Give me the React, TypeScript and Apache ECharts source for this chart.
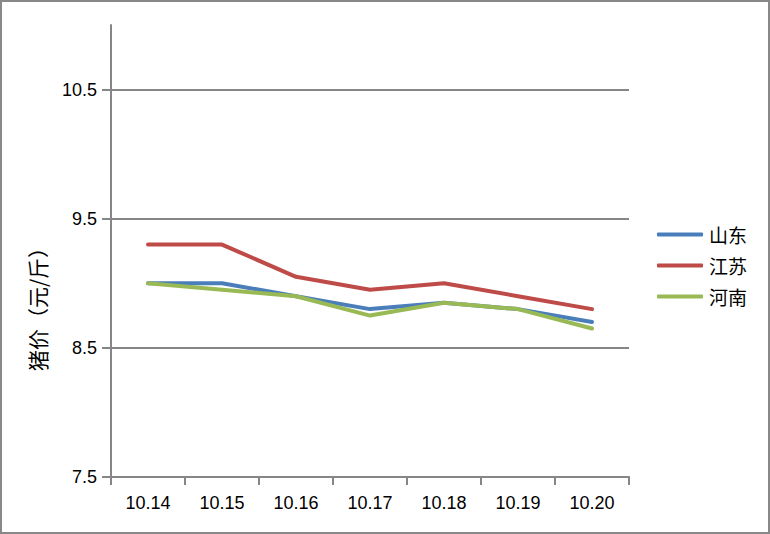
import React, { useEffect, useRef } from "react";
import * as echarts from "echarts";

const categories = ["10.14", "10.15", "10.16", "10.17", "10.18", "10.19", "10.20"];
const seriesNames = ["山东", "江苏", "河南"];
const shandong = [9.0, 9.0, 8.9, 8.8, 8.85, 8.8, 8.7];
const jiangsu = [9.3, 9.3, 9.05, 8.95, 9.0, 8.9, 8.8];
const henan = [9.0, 8.95, 8.9, 8.75, 8.85, 8.8, 8.65];
const yTicks = [7.5, 8.5, 9.5, 10.5];
const yTitle = "猪价（元/斤）";

const colors = ["#4A7EBB", "#BE4B48", "#98B954"];
const axisColor = "#868686";
const latin = "'Liberation Sans', 'Noto Sans CJK SC', sans-serif";
const cjk = "'Noto Sans CJK SC', sans-serif";

export default function App() {
  const ref = useRef<HTMLDivElement>(null);
  useEffect(() => {
    document.body.style.margin = "0";
    if (!ref.current) return;
    const chart = echarts.init(ref.current, undefined, { renderer: "svg" });
    const values = [shandong, jiangsu, henan];
    chart.setOption({
      animation: false,
      backgroundColor: "#ffffff",
      grid: { left: 111, right: 141, top: 25, bottom: 57, containLabel: false },
      legend: {
        orient: "vertical",
        left: 652,
        top: 220,
        icon: "roundRect",
        itemWidth: 46,
        itemHeight: 4,
        itemGap: 12,
        data: seriesNames,
        textStyle: { fontFamily: cjk, fontSize: 19, color: "#000", padding: [0, 0, 0, 1] },
      },
      xAxis: {
        type: "category",
        data: categories,
        boundaryGap: true,
        axisLine: { lineStyle: { color: axisColor, width: 2 } },
        axisTick: { show: true, length: 8, alignWithLabel: false, lineStyle: { color: axisColor, width: 2 } },
        axisLabel: { fontFamily: latin, fontSize: 18, color: "#000", margin: 17 },
        splitLine: { show: false },
      },
      yAxis: {
        type: "value",
        min: 7.5,
        max: 11,
        interval: 1,
        axisLine: { show: true, lineStyle: { color: axisColor, width: 2 } },
        axisTick: { show: true, length: 9, customValues: yTicks, lineStyle: { color: axisColor, width: 2 } },
        axisLabel: {
          fontFamily: latin,
          fontSize: 18,
          color: "#000",
          margin: 14,
          customValues: yTicks,
          formatter: (v: number) => v.toFixed(1),
        },
        splitLine: {
          show: true,
          lineStyle: { color: ["rgba(0,0,0,0)", axisColor, axisColor, axisColor, "rgba(0,0,0,0)"], width: 2 },
        },
      },
      graphic: [
        {
          type: "text",
          x: 37,
          y: 304,
          rotation: Math.PI / 2,
          style: {
            text: yTitle,
            fontFamily: cjk,
            fontSize: 21,
            fill: "#000",
            align: "center",
            verticalAlign: "middle",
          },
        },
      ],
      series: seriesNames.map((name, i) => ({
        name,
        type: "line",
        data: values[i],
        symbol: "none",
        lineStyle: { color: colors[i], width: 4, cap: "round", join: "round" },
        itemStyle: { color: colors[i] },
        z: 2 + i,
      })),
    });
    return () => chart.dispose();
  }, []);
  return (
    <div
      style={{
        width: 770,
        height: 534,
        boxSizing: "border-box",
        border: "2px solid #888",
        position: "relative",
        overflow: "hidden",
      }}
    >
      <div ref={ref} style={{ position: "absolute", left: -2, top: -2, width: 770, height: 534 }} />
    </div>
  );
}
